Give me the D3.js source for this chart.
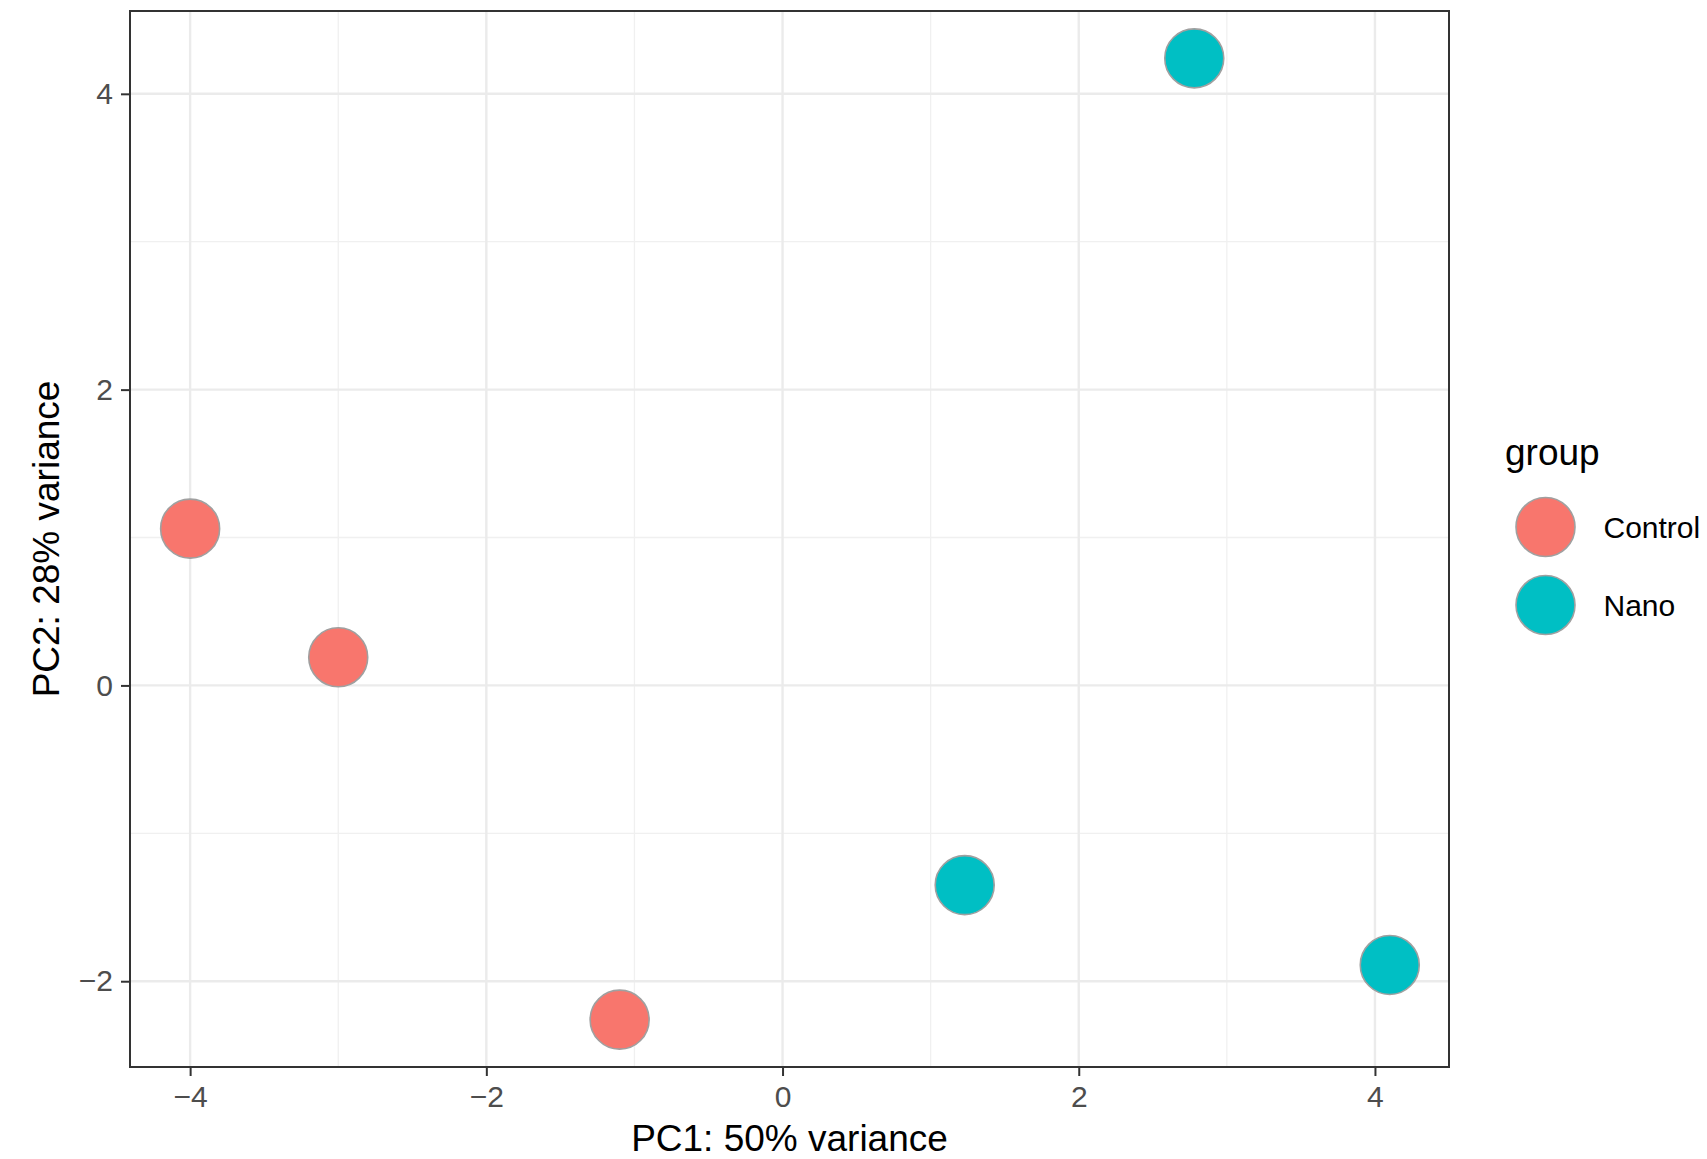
<!DOCTYPE html>
<html>
<head>
<meta charset="utf-8">
<script src="https://cdn.jsdelivr.net/npm/d3@7"></script>
<style>
  body { margin: 0; background: #fff; }
  svg { display: block; font-family: "Liberation Sans", Arial, sans-serif; }
</style>
</head>
<body>
<div id="chart"></div>
<script>
// Chart size
const WIDTH = 1707;
const HEIGHT = 1159;
const PANEL = {left: 130, top: 11, right: 1449, bottom: 1067};

const COLOUR_CONTROL = "#F8766D";
const COLOUR_NANO = "#00BFC4";

// Data
const groups = ["Control", "Nano"];
const sampleGroup = ["Control", "Control", "Control", "Nano", "Nano", "Nano"];
const pc1 = [-4.00, -3.00, -1.10, 2.78, 1.23, 4.10];
const pc2 = [1.06, 0.19, -2.26, 4.24, -1.35, -1.89];

const xTicks = [-4, -2, 0, 2, 4];
const yTicks = [-2, 0, 2, 4];
const xMinor = [-3, -1, 1, 3];
const yMinor = [-1, 1, 3];

let points = pc1.map((d, i) => ({x: d, y: pc2[i], group: sampleGroup[i]}));

let svg = d3.select("#chart")
            .append("svg")
            .attr("width", WIDTH)
            .attr("height", HEIGHT);

// Scales
let x = d3.scaleLinear().domain([-4.406, 4.500]).range([PANEL.left, PANEL.right]);
let y = d3.scaleLinear().domain([-2.58, 4.56]).range([PANEL.bottom, PANEL.top]);
let colour = d3.scaleOrdinal().domain(groups).range([COLOUR_CONTROL, COLOUR_NANO]);

// minus sign like ggplot
let fmt = d => (d < 0 ? "\u2212" + Math.abs(d) : String(d));

// Grid lines: minor first, then major
let grid = svg.append("g");
grid.selectAll(".vminor").data(xMinor).join("line")
    .attr("x1", d => x(d)).attr("x2", d => x(d))
    .attr("y1", PANEL.top).attr("y2", PANEL.bottom)
    .attr("stroke", "#F0F0F0").attr("stroke-width", 1.3);
grid.selectAll(".hminor").data(yMinor).join("line")
    .attr("y1", d => y(d)).attr("y2", d => y(d))
    .attr("x1", PANEL.left).attr("x2", PANEL.right)
    .attr("stroke", "#F0F0F0").attr("stroke-width", 1.3);
grid.selectAll(".vmajor").data(xTicks).join("line")
    .attr("x1", d => x(d)).attr("x2", d => x(d))
    .attr("y1", PANEL.top).attr("y2", PANEL.bottom)
    .attr("stroke", "#EBEBEB").attr("stroke-width", 2.4);
grid.selectAll(".hmajor").data(yTicks).join("line")
    .attr("y1", d => y(d)).attr("y2", d => y(d))
    .attr("x1", PANEL.left).attr("x2", PANEL.right)
    .attr("stroke", "#EBEBEB").attr("stroke-width", 2.4);

// Points
svg.append("g")
    .selectAll("circle")
    .data(points)
    .join("circle")
    .attr("cx", d => x(d.x))
    .attr("cy", d => y(d.y))
    .attr("r", 29.5)
    .attr("fill", d => colour(d.group))
    .attr("stroke", "#A0A0A0")
    .attr("stroke-width", 1.6);

// Panel border
svg.append("rect")
    .attr("x", PANEL.left).attr("y", PANEL.top)
    .attr("width", PANEL.right - PANEL.left)
    .attr("height", PANEL.bottom - PANEL.top)
    .attr("fill", "none")
    .attr("stroke", "#333333")
    .attr("stroke-width", 2);

// Axes
let xAxis = d3.axisBottom(x).tickValues(xTicks).tickFormat(fmt).tickSize(9).tickPadding(8);
let yAxis = d3.axisLeft(y).tickValues(yTicks).tickFormat(fmt).tickSize(9).tickPadding(8);

let gx = svg.append("g")
    .attr("transform", `translate(0, ${PANEL.bottom})`)
    .call(xAxis);
let gy = svg.append("g")
    .attr("transform", `translate(${PANEL.left}, 0)`)
    .call(yAxis);

[gx, gy].forEach(g => {
    g.select(".domain").remove();
    g.selectAll(".tick line").attr("stroke", "#333333").attr("stroke-width", 2);
    g.selectAll(".tick text")
        .attr("fill", "#4D4D4D")
        .style("font-size", "30px")
        .style("font-family", "'Liberation Sans', Arial, sans-serif");
});
gx.selectAll(".tick text").attr("dy", "0.78em");

// Axis titles
svg.append("text")
    .attr("x", (PANEL.left + PANEL.right) / 2)
    .attr("y", 1151)
    .attr("text-anchor", "middle")
    .style("font-size", "37px")
    .text("PC1: 50% variance");

svg.append("text")
    .attr("transform", `translate(59, ${(PANEL.top + PANEL.bottom) / 2}) rotate(-90)`)
    .attr("text-anchor", "middle")
    .style("font-size", "37px")
    .text("PC2: 28% variance");

// Legend
let legend = svg.append("g");
legend.append("text")
    .attr("x", 1505)
    .attr("y", 465)
    .style("font-size", "37px")
    .text("group");

let keys = legend.selectAll(".key")
    .data(groups)
    .join("g")
    .attr("transform", (d, i) => `translate(1545.5, ${527 + i * 78})`);

keys.append("circle")
    .attr("r", 29.5)
    .attr("fill", d => colour(d))
    .attr("stroke", "#A0A0A0")
    .attr("stroke-width", 1.6);

keys.append("text")
    .attr("x", 58)
    .attr("dy", "0.36em")
    .style("font-size", "30px")
    .text(d => d);
</script>
</body>
</html>
